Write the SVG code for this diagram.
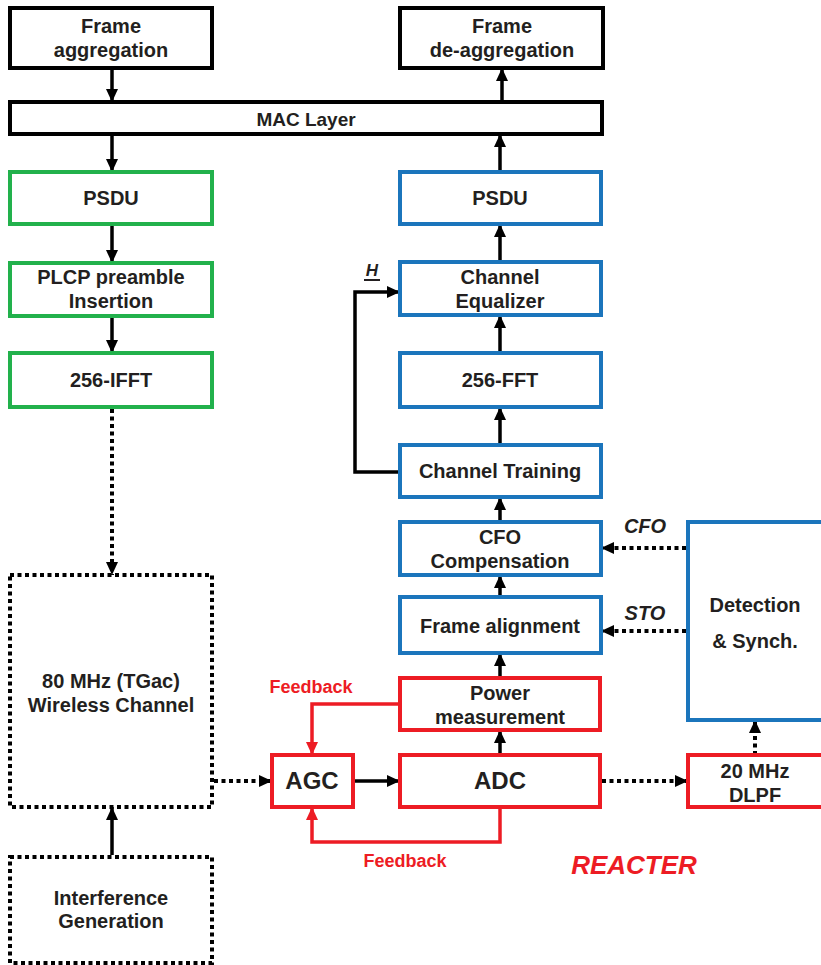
<svg xmlns="http://www.w3.org/2000/svg" width="821" height="965" viewBox="0 0 821 965">
  <style>
    .box { fill: #ffffff; stroke-width: 4; }
    .blk { stroke: #000000; }
    .grn { stroke: #22b14c; }
    .blu { stroke: #1b75bc; }
    .red { stroke: #ed1c24; }
    .dot { stroke: #000000; stroke-dasharray: 4 3.5; }
    .lbl { font-family: "Liberation Sans", Arial, sans-serif; font-weight: bold; font-size: 20px; fill: #231f20; text-anchor: middle; }
    .big { font-size: 24px; }
    .fb { font-family: "Liberation Sans", Arial, sans-serif; font-weight: bold; font-size: 18px; fill: #ed1c24; text-anchor: middle; }
    .it { font-style: italic; }
    .wire { fill: none; stroke: #000000; stroke-width: 3.5; }
    .dwire { fill: none; stroke: #000000; stroke-width: 4; stroke-dasharray: 4 3.5; }
    .rwire { fill: none; stroke: #ed1c24; stroke-width: 3.5; }
  </style>
  <defs>
    <marker id="ah" markerUnits="userSpaceOnUse" markerWidth="14" markerHeight="14" viewBox="0 0 14 14" refX="13" refY="7" orient="auto">
      <path d="M0,1 L13,7 L0,13 Z" fill="#000000"/>
    </marker>
    <marker id="ahr" markerUnits="userSpaceOnUse" markerWidth="14" markerHeight="14" viewBox="0 0 14 14" refX="13" refY="7" orient="auto">
      <path d="M0,1 L13,7 L0,13 Z" fill="#ed1c24"/>
    </marker>
  </defs>

  <!-- connectors -->
  <g id="connectors">
    <path class="wire" d="M112,68 V102" marker-end="url(#ah)"/>
    <path class="wire" d="M502,102 V68" marker-end="url(#ah)"/>
    <path class="wire" d="M112,134 V172" marker-end="url(#ah)"/>
    <path class="wire" d="M112,224 V263" marker-end="url(#ah)"/>
    <path class="wire" d="M112,316 V353" marker-end="url(#ah)"/>
    <path class="dwire" d="M112,409 V575" marker-end="url(#ah)"/>
    <path class="wire" d="M500,172 V134" marker-end="url(#ah)"/>
    <path class="wire" d="M500,262 V224" marker-end="url(#ah)"/>
    <path class="wire" d="M500,353 V315" marker-end="url(#ah)"/>
    <path class="wire" d="M500,445 V407" marker-end="url(#ah)"/>
    <path class="wire" d="M500,522 V497" marker-end="url(#ah)"/>
    <path class="wire" d="M500,597 V575" marker-end="url(#ah)"/>
    <path class="wire" d="M500,678 V653" marker-end="url(#ah)"/>
    <path class="wire" d="M500,755 V730" marker-end="url(#ah)"/>
    <path class="wire" d="M400,472 H355 V292 H400" marker-end="url(#ah)"/>
    <path class="dwire" d="M686,548 H601" marker-end="url(#ah)"/>
    <path class="dwire" d="M686,631 H601" marker-end="url(#ah)"/>
    <path class="dwire" d="M755,755 V720" marker-end="url(#ah)"/>
    <path class="dwire" d="M602,781 H688" marker-end="url(#ah)"/>
    <path class="dwire" d="M214,781 H272" marker-end="url(#ah)"/>
    <path class="wire" d="M353,781 H400" marker-end="url(#ah)"/>
    <path class="wire" d="M112,855 V807" marker-end="url(#ah)"/>
    <path class="rwire" d="M400,704 H312 V755" marker-end="url(#ahr)"/>
    <path class="rwire" d="M500,807 V842 H312 V807" marker-end="url(#ahr)"/>
    <text class="lbl it" x="372" y="276" style="font-size:17px">H</text>
    <line x1="364" y1="280" x2="380" y2="280" stroke="#231f20" stroke-width="2"/>
    <text class="lbl it" x="645" y="533">CFO</text>
    <text class="lbl it" x="645" y="620">STO</text>
    <text class="fb" x="311" y="693">Feedback</text>
    <text class="fb" x="405" y="867">Feedback</text>
  </g>

  <g id="frame-agg">
    <rect class="box blk" x="10" y="8" width="202" height="60"/>
    <text class="lbl" x="111" y="33">Frame</text>
    <text class="lbl" x="111" y="57">aggregation</text>
  </g>
  <g id="frame-deagg">
    <rect class="box blk" x="400" y="8" width="203" height="60"/>
    <text class="lbl" x="502" y="33">Frame</text>
    <text class="lbl" x="502" y="57">de-aggregation</text>
  </g>
  <g id="mac">
    <rect class="box blk" x="10" y="102" width="592" height="32"/>
    <text class="lbl" x="306" y="126" style="font-size:19px">MAC Layer</text>
  </g>

  <g id="tx-psdu">
    <rect class="box grn" x="10" y="172" width="202" height="52"/>
    <text class="lbl" x="111" y="205">PSDU</text>
  </g>
  <g id="tx-plcp">
    <rect class="box grn" x="10" y="263" width="202" height="53"/>
    <text class="lbl" x="111" y="284">PLCP preamble</text>
    <text class="lbl" x="111" y="308">Insertion</text>
  </g>
  <g id="tx-ifft">
    <rect class="box grn" x="10" y="353" width="202" height="54"/>
    <text class="lbl" x="111" y="387">256-IFFT</text>
  </g>

  <g id="channel">
    <rect class="box dot" x="10" y="575" width="202" height="232"/>
    <text class="lbl" x="111" y="688">80 MHz (TGac)</text>
    <text class="lbl" x="111" y="712">Wireless Channel</text>
  </g>
  <g id="interference">
    <rect class="box dot" x="10" y="857" width="202" height="106"/>
    <text class="lbl" x="111" y="905">Interference</text>
    <text class="lbl" x="111" y="928">Generation</text>
  </g>

  <g id="rx-psdu">
    <rect class="box blu" x="400" y="172" width="201" height="52"/>
    <text class="lbl" x="500" y="205">PSDU</text>
  </g>
  <g id="equalizer">
    <rect class="box blu" x="400" y="262" width="201" height="53"/>
    <text class="lbl" x="500" y="284">Channel</text>
    <text class="lbl" x="500" y="308">Equalizer</text>
  </g>
  <g id="fft">
    <rect class="box blu" x="400" y="353" width="201" height="54"/>
    <text class="lbl" x="500" y="387">256-FFT</text>
  </g>
  <g id="training">
    <rect class="box blu" x="400" y="445" width="201" height="52"/>
    <text class="lbl" x="500" y="478">Channel Training</text>
  </g>
  <g id="cfo-comp">
    <rect class="box blu" x="400" y="522" width="201" height="53"/>
    <text class="lbl" x="500" y="544">CFO</text>
    <text class="lbl" x="500" y="568">Compensation</text>
  </g>
  <g id="frame-align">
    <rect class="box blu" x="400" y="597" width="201" height="56"/>
    <text class="lbl" x="500" y="633">Frame alignment</text>
  </g>
  <g id="detection">
    <rect class="box blu" x="688" y="522" width="140" height="198"/>
    <text class="lbl" x="755" y="612">Detection</text>
    <text class="lbl" x="755" y="648">&amp; Synch.</text>
  </g>

  <g id="power">
    <rect class="box red" x="400" y="678" width="200" height="52"/>
    <text class="lbl" x="500" y="700">Power</text>
    <text class="lbl" x="500" y="724">measurement</text>
  </g>
  <g id="adc">
    <rect class="box red" x="400" y="755" width="200" height="52"/>
    <text class="lbl big" x="500" y="789">ADC</text>
  </g>
  <g id="agc">
    <rect class="box red" x="272" y="755" width="81" height="52"/>
    <text class="lbl big" x="312" y="789">AGC</text>
  </g>
  <g id="dlpf">
    <rect class="box red" x="688" y="755" width="140" height="52"/>
    <text class="lbl" x="755" y="778">20 MHz</text>
    <text class="lbl" x="755" y="802">DLPF</text>
  </g>

  <text class="lbl it" x="634" y="874" style="font-size:26px;fill:#ed1c24">REACTER</text>
</svg>
